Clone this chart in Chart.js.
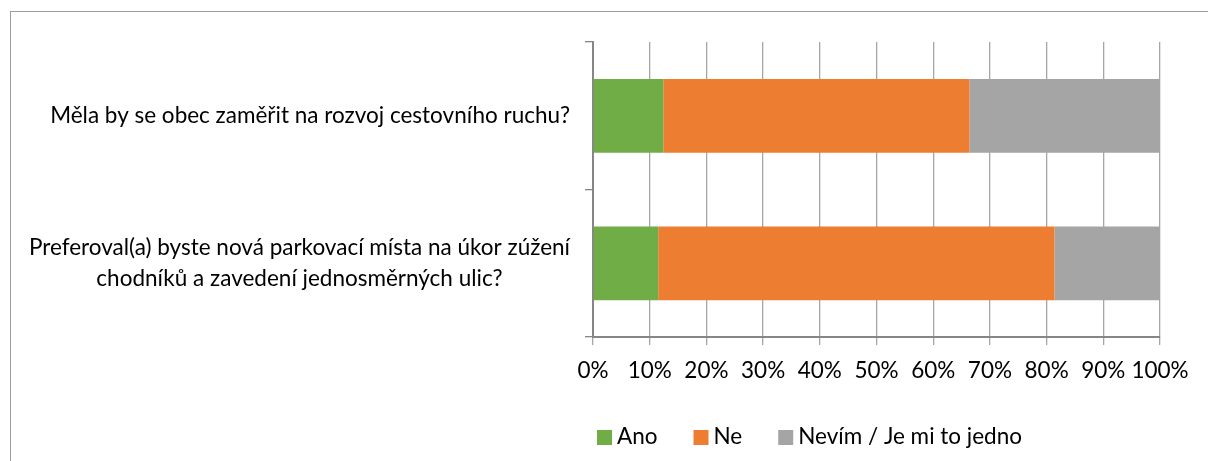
<!DOCTYPE html>
<html>
<head>
<meta charset="utf-8">
<script src="https://cdn.jsdelivr.net/npm/chart.js@4/dist/chart.umd.min.js"></script>
<style>
    html, body { margin: 0; padding: 0; background: #fff; overflow: hidden; }
    #wrap { position: relative; width: 1208px; height: 461px; }
    #frame {
        position: absolute; left: 10px; top: 11px;
        width: 1300px; height: 600px;
        border: 1px solid #9c9c9c;
    }
    #surveyCanvas { position: absolute; left: 0; top: 0; }
</style>
</head>
<body>
<div id="wrap">
    <div id="frame"></div>
    <canvas id="surveyCanvas" width="1208" height="461"></canvas>
</div>
<script>
const questions = [
    "Měla by se obec zaměřit na rozvoj cestovního ruchu?",
    ["Preferoval(a) byste nová parkovací místa na úkor zúžení", "chodníků a zavedení jednosměrných ulic?"]
];

const answerNames = ["Ano", "Ne", "Nevím / Je mi to jedno"];
const answerColors = ["#70ad47", "#ed7d31", "#a5a5a5"];

const yesValues = [12.4, 11.5];
const noValues = [54.0, 69.9];
const unsureValues = [33.6, 18.6];

const percentTicks = [0, 10, 20, 30, 40, 50, 60, 70, 80, 90, 100];

const fontFamily = "Lato, 'Open Sans', sans-serif";
const fontSize = 22.5;

const ctx = document.getElementById("surveyCanvas");

// question labels: block right-aligned to the axis, lines centred inside the block
const questionLabels = {
    id: "questionLabels",
    afterDraw(chart) {
        const c = chart.ctx;
        const yScale = chart.scales.y;
        c.save();
        c.font = `${fontSize}px ${fontFamily}`;
        c.fillStyle = "#000";
        c.textAlign = "center";
        c.textBaseline = "middle";
        const right = yScale.right - 23;
        const lineHeight = 31;
        questions.forEach((q, i) => {
            const lines = Array.isArray(q) ? q : [q];
            const w = Math.max(...lines.map(l => c.measureText(l).width));
            const cx = right - w / 2;
            const cy = yScale.getPixelForValue(i);
            lines.forEach((line, j) => {
                c.fillText(line, cx, cy + (j - (lines.length - 1) / 2) * lineHeight);
            });
        });
        c.restore();
    }
};

// legend row under the axis
const answerLegend = {
    id: "answerLegend",
    afterDraw(chart) {
        const c = chart.ctx;
        c.save();
        c.font = `${fontSize}px ${fontFamily}`;
        c.textBaseline = "middle";
        c.textAlign = "left";
        let x = chart.chartArea.left + 4;
        const y = 437;
        chart.data.datasets.forEach((ds) => {
            c.fillStyle = ds.backgroundColor;
            c.fillRect(x, y - 7, 15, 15);
            x += 20;
            c.fillStyle = "#000";
            c.fillText(ds.label, x, y);
            x += c.measureText(ds.label).width + 36;
        });
        c.restore();
    }
};

const chart = new Chart(ctx, {
    type: "bar",
    data: {
        labels: questions,
        datasets: [
            { label: answerNames[0], data: yesValues, backgroundColor: answerColors[0] },
            { label: answerNames[1], data: noValues, backgroundColor: answerColors[1] },
            { label: answerNames[2], data: unsureValues, backgroundColor: answerColors[2] }
        ]
    },
    options: {
        indexAxis: "y",
        responsive: false,
        animation: false,
        barPercentage: 0.5,
        categoryPercentage: 1.0,
        layout: {
            padding: { left: 0, top: 42, right: 48, bottom: 44 }
        },
        plugins: {
            legend: { display: false },
            tooltip: { enabled: false }
        },
        scales: {
            x: {
                stacked: true,
                min: 0,
                max: 100,
                afterBuildTicks(scale) {
                    scale.ticks = percentTicks.map(v => ({ value: v }));
                },
                afterFit(scale) {
                    scale.height = 80;
                },
                ticks: {
                    color: "#000",
                    padding: 12,
                    maxRotation: 0,
                    autoSkip: false,
                    font: { family: fontFamily, size: fontSize },
                    callback: (v) => v + "%"
                },
                grid: {
                    color: "#a6a6a6",
                    lineWidth: 1.3,
                    tickLength: 8
                },
                border: {
                    color: "#868686",
                    width: 2
                }
            },
            y: {
                stacked: true,
                afterFit(scale) {
                    scale.width = 593;
                },
                ticks: { display: false },
                grid: {
                    drawOnChartArea: false,
                    offset: true,
                    color: "#868686",
                    lineWidth: 1.3,
                    tickLength: 8
                },
                border: {
                    color: "#868686",
                    width: 2
                }
            }
        }
    },
    plugins: [questionLabels, answerLegend]
});
</script>
</body>
</html>
